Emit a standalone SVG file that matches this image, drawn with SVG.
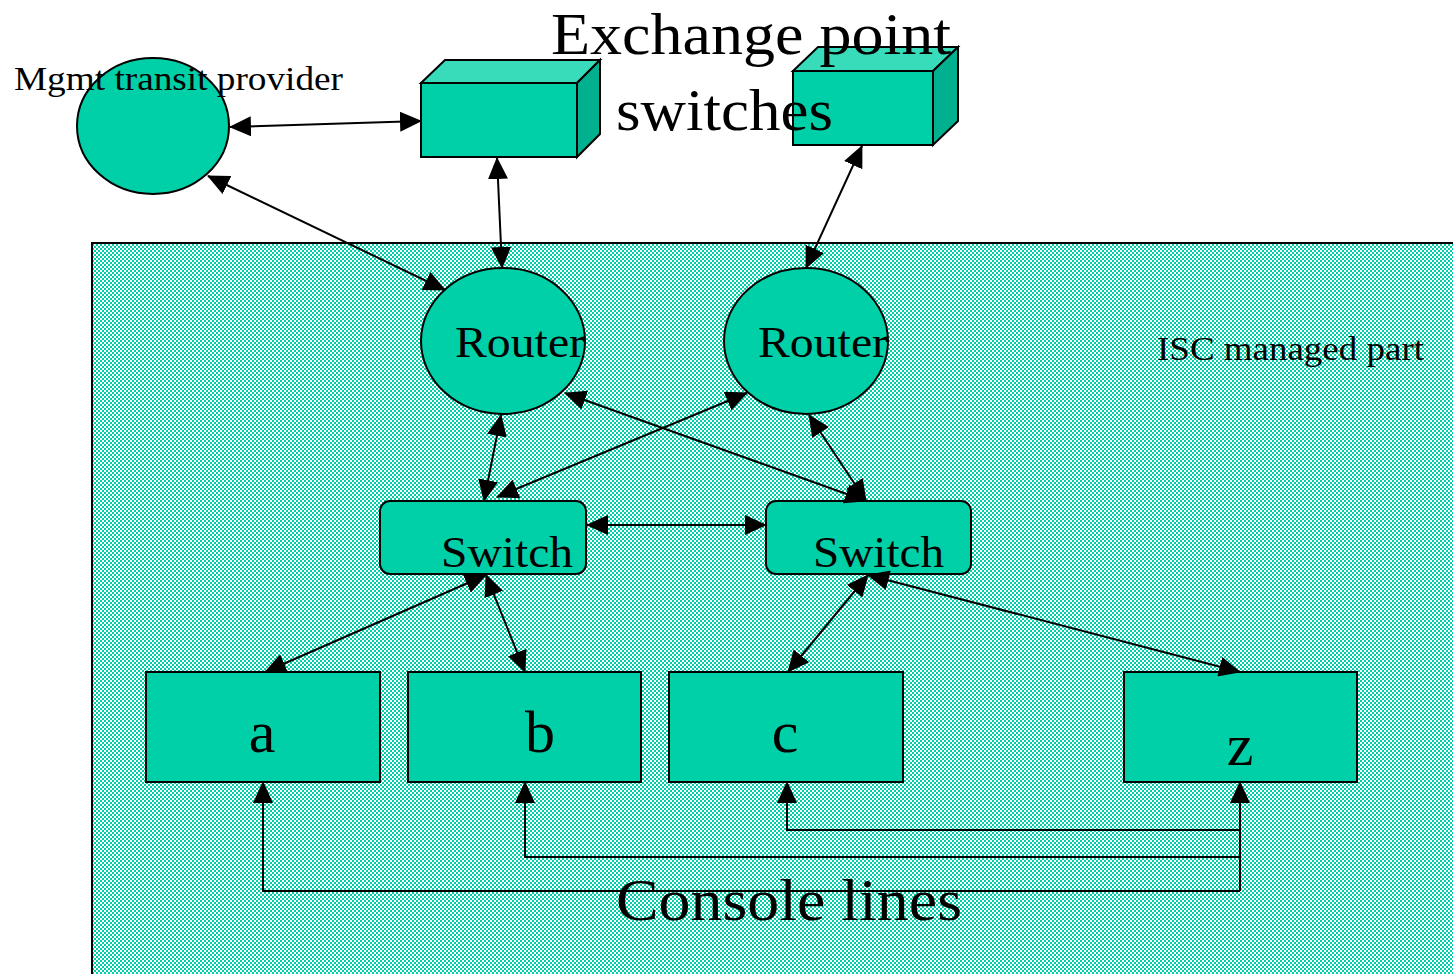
<svg xmlns="http://www.w3.org/2000/svg" width="1453" height="974" viewBox="0 0 1453 974">
<defs>
<pattern id="chk" patternUnits="userSpaceOnUse" width="4" height="4">
<rect width="4" height="4" fill="#ffffff"/>
<rect x="0" y="0" width="2" height="2" fill="#00d0a8"/>
<rect x="2" y="2" width="2" height="2" fill="#00d0a8"/>
</pattern>
<marker id="ah" markerUnits="userSpaceOnUse" markerWidth="22" markerHeight="20" refX="21" refY="10" orient="auto-start-reverse" viewBox="0 0 22 20">
<path d="M0,0 L22,10 L0,20 Z" fill="#000"/>
</marker>
<style>
.n{fill:#00d0a8;stroke:#000;stroke-width:2}
.top{fill:#38dcbb;stroke:#000;stroke-width:2}
.side{fill:#00b08e;stroke:#000;stroke-width:2}
.t{font-family:"Liberation Serif","Times New Roman",serif;fill:#000}
.c{fill:none;stroke:#000;stroke-width:2}
.bi{marker-start:url(#ah);marker-end:url(#ah)}
.en{marker-end:url(#ah)}
</style>
</defs>
<rect width="1453" height="974" fill="#fff"/>
<g id="isc-area">
<rect x="92" y="243" width="1370" height="740" fill="url(#chk)" stroke="#000" stroke-width="2"/>
<text class="t" x="1157" y="360" font-size="34" textLength="267" lengthAdjust="spacingAndGlyphs">ISC managed part</text>
</g>
<g id="mgmt">
<ellipse class="n" cx="153" cy="126" rx="76" ry="68"/>
<text class="t" x="14" y="90" font-size="34" textLength="329" lengthAdjust="spacingAndGlyphs">Mgmt transit provider</text>
</g>
<g id="exch1">
<polygon class="top" points="421,83 445,60 600,60 577,83"/>
<polygon class="side" points="577,83 600,60 600,134 577,157"/>
<rect class="n" x="421" y="83" width="156" height="74"/>
</g>
<g id="exch2">
<polygon class="top" points="793,71 818,47 958,47 933,71"/>
<polygon class="side" points="933,71 958,47 958,121 933,145"/>
<rect class="n" x="793" y="71" width="140" height="74"/>
</g>
<g id="title">
<text class="t" x="551" y="54" font-size="60" textLength="400" lengthAdjust="spacingAndGlyphs">Exchange point</text>
<text class="t" x="616" y="130" font-size="60" textLength="217" lengthAdjust="spacingAndGlyphs">switches</text>
</g>
<g id="router1">
<ellipse class="n" cx="503" cy="341" rx="82" ry="73"/>
<text class="t" x="455" y="357" font-size="44" textLength="130" lengthAdjust="spacingAndGlyphs">Router</text>
</g>
<g id="router2">
<ellipse class="n" cx="806" cy="341" rx="82" ry="73"/>
<text class="t" x="758" y="357" font-size="44" textLength="130" lengthAdjust="spacingAndGlyphs">Router</text>
</g>
<g id="switch1">
<rect class="n" x="380" y="501" width="206" height="73" rx="10"/>
<text class="t" x="441" y="567" font-size="44" textLength="132" lengthAdjust="spacingAndGlyphs">Switch</text>
</g>
<g id="switch2">
<rect class="n" x="766" y="501" width="205" height="73" rx="10"/>
<text class="t" x="813" y="567" font-size="44" textLength="131" lengthAdjust="spacingAndGlyphs">Switch</text>
</g>
<g id="host-a">
<rect class="n" x="146" y="672" width="234" height="110"/>
<text class="t" x="262" y="752" font-size="60" text-anchor="middle">a</text>
</g>
<g id="host-b">
<rect class="n" x="408" y="672" width="233" height="110"/>
<text class="t" x="540" y="752" font-size="60" text-anchor="middle">b</text>
</g>
<g id="host-c">
<rect class="n" x="669" y="672" width="234" height="110"/>
<text class="t" x="785" y="752" font-size="60" text-anchor="middle">c</text>
</g>
<g id="host-z">
<rect class="n" x="1124" y="672" width="233" height="110"/>
<text class="t" x="1240" y="765" font-size="60" text-anchor="middle">z</text>
</g>
<g id="connectors">
<line class="c bi" x1="230" y1="127" x2="421" y2="121"/>
<line class="c bi" x1="497" y1="158" x2="502" y2="268"/>
<line class="c bi" x1="862" y1="146" x2="806" y2="268"/>
<line class="c bi" x1="208" y1="176" x2="445" y2="290"/>
<line class="c bi" x1="501" y1="415" x2="484" y2="501"/>
<line class="c bi" x1="497" y1="497" x2="747" y2="393"/>
<line class="c bi" x1="565" y1="393" x2="866" y2="501"/>
<line class="c bi" x1="809" y1="415" x2="866" y2="501"/>
<line class="c bi" x1="587" y1="525" x2="766" y2="525"/>
<line class="c bi" x1="486" y1="575" x2="265" y2="672"/>
<line class="c bi" x1="486" y1="575" x2="525" y2="672"/>
<line class="c bi" x1="868" y1="575" x2="788" y2="672"/>
<line class="c bi" x1="868" y1="575" x2="1240" y2="672"/>
<polyline class="c en" points="1240,891 1240,782"/>
<polyline class="c en" points="1240,830 787,830 787,782"/>
<polyline class="c en" points="1240,857 525,857 525,782"/>
<polyline class="c en" points="1240,891 263,891 263,782"/>
</g>
<g id="console-label">
<text class="t" x="616" y="920" font-size="60" textLength="346" lengthAdjust="spacingAndGlyphs">Console lines</text>
</g>
</svg>
